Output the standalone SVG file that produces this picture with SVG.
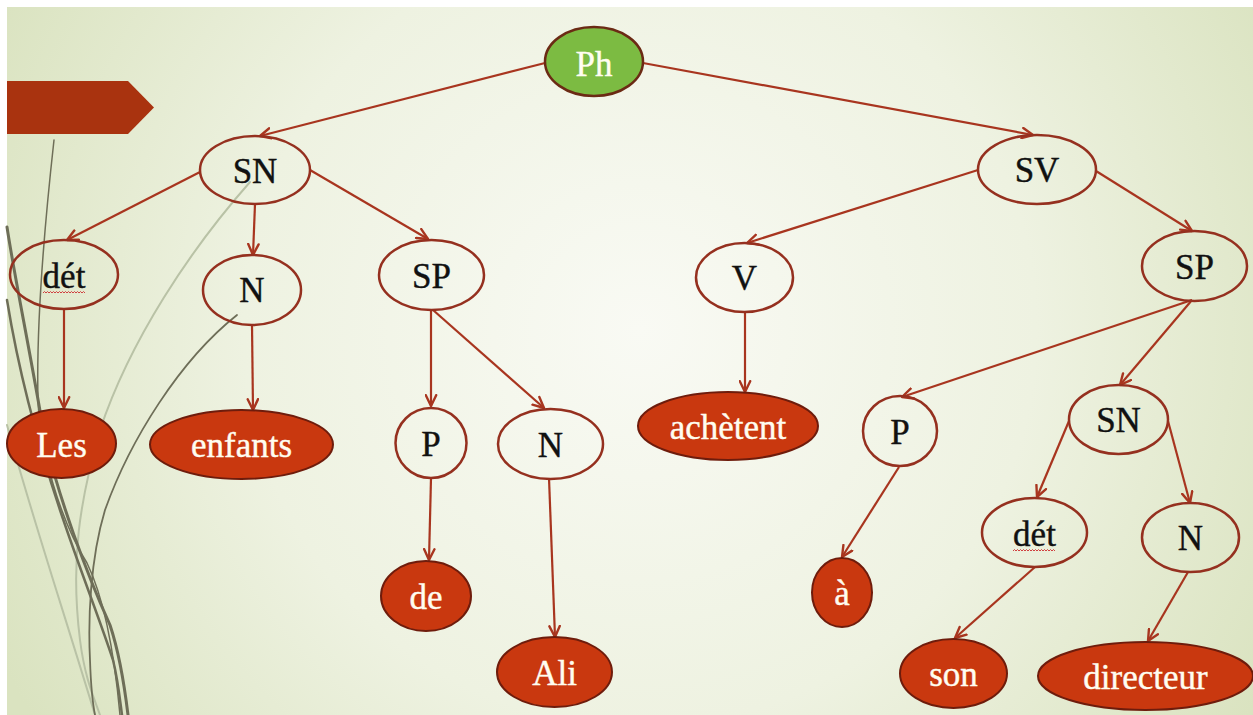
<svg xmlns="http://www.w3.org/2000/svg" width="1253" height="715" viewBox="0 0 1253 715">
<defs>
<radialGradient id="bg" cx="640" cy="330" r="720" gradientUnits="userSpaceOnUse">
<stop offset="0" stop-color="#F9FAF4"/>
<stop offset="0.55" stop-color="#EEF2E1"/>
<stop offset="1" stop-color="#DAE3C0"/>
</radialGradient>
<marker id="arr" viewBox="0 0 12 12" refX="11" refY="6" markerWidth="13" markerHeight="13" markerUnits="userSpaceOnUse" orient="auto">
<path d="M1,1.2 L11,6 L1,10.8" fill="none" stroke="#A8351F" stroke-width="2.2" stroke-linecap="round" stroke-linejoin="round"/>
</marker>
<style>
.edge{fill:none;stroke:#A8351F;stroke-width:2.2}
.inner{fill:none;stroke:#95301F;stroke-width:2.5}
.leaf{fill:#C9380F;stroke:#6E1C0C;stroke-width:2}
.root{fill:#7CBB42;stroke:#6B2A14;stroke-width:2.5}
.t{font-family:"Liberation Serif","Times New Roman",serif;font-size:35px;text-anchor:middle;stroke-width:0.4}
.tb{fill:#111111;stroke:#111111}
.tw{fill:#FFFDF0;stroke:#FFFDF0}
.dark{fill:none;stroke:#6E6E58;stroke-linecap:round}
.pale{fill:none;stroke:#B9C2A6;stroke-linecap:round}
.sq{fill:none;stroke:#D04040;stroke-width:1}
</style>
</defs>
<rect x="0" y="0" width="1253" height="715" fill="#FFFFFF"/>
<rect x="7" y="7" width="1246" height="708" fill="url(#bg)"/>
<g id="decor">
<path class="pale" stroke-width="2" d="M250,182 C190,250 130,340 100,430 C80,500 70,560 80,640 C85,680 95,700 100,715"/>
<path class="pale" stroke-width="2" d="M7,425 C30,510 60,600 95,715"/>
<path class="dark" stroke-width="1.5" d="M54,140 C44,230 36,320 38,400 C40,450 60,520 87,563 C105,600 115,660 120,715"/>
<path class="dark" stroke-width="3" d="M7,227 C15,280 30,350 45,440 C60,500 85,570 110,625 C120,655 125,690 128,715"/>
<path class="dark" stroke-width="2.5" d="M7,300 C20,380 40,450 60,510 C80,570 100,620 113,660 C118,680 120,700 122,715"/>
<path class="dark" stroke-width="1.8" d="M237,315 C180,360 130,440 105,510 C90,560 88,620 90,660 C91,690 93,705 95,715"/>
<polygon points="7,81 128,81 154,107.5 128,134 7,134" fill="#A9330F"/>
</g>
<g id="connectors">
<line class="edge" marker-end="url(#arr)" x1="545" y1="63" x2="260" y2="136"/>
<line class="edge" marker-end="url(#arr)" x1="643" y1="63" x2="1033" y2="135"/>
<line class="edge" marker-end="url(#arr)" x1="200" y1="172" x2="67" y2="240"/>
<line class="edge" marker-end="url(#arr)" x1="255" y1="204" x2="253" y2="255"/>
<line class="edge" marker-end="url(#arr)" x1="310" y1="170" x2="428" y2="239"/>
<line class="edge" marker-end="url(#arr)" x1="64" y1="309" x2="64" y2="408"/>
<line class="edge" marker-end="url(#arr)" x1="252" y1="325" x2="253" y2="410"/>
<line class="edge" marker-end="url(#arr)" x1="431" y1="310" x2="431" y2="406"/>
<line class="edge" marker-end="url(#arr)" x1="433" y1="310" x2="544" y2="408"/>
<line class="edge" marker-end="url(#arr)" x1="431" y1="478" x2="429" y2="560"/>
<line class="edge" marker-end="url(#arr)" x1="549" y1="478" x2="555" y2="637"/>
<line class="edge" marker-end="url(#arr)" x1="978" y1="170" x2="747" y2="243"/>
<line class="edge" marker-end="url(#arr)" x1="745" y1="312" x2="745" y2="392"/>
<line class="edge" marker-end="url(#arr)" x1="1096" y1="171" x2="1192" y2="231"/>
<line class="edge" marker-end="url(#arr)" x1="1192" y1="300" x2="902" y2="397"/>
<line class="edge" marker-end="url(#arr)" x1="1192" y1="300" x2="1120" y2="385"/>
<line class="edge" marker-end="url(#arr)" x1="1069" y1="421" x2="1037" y2="497"/>
<line class="edge" marker-end="url(#arr)" x1="1168" y1="421" x2="1190" y2="503"/>
<line class="edge" marker-end="url(#arr)" x1="899" y1="467" x2="842" y2="557"/>
<line class="edge" marker-end="url(#arr)" x1="1035" y1="567" x2="955" y2="638"/>
<line class="edge" marker-end="url(#arr)" x1="1188" y1="572" x2="1148" y2="641"/>
</g>
<g id="node-ph"><ellipse class="root" cx="594" cy="61.5" rx="49" ry="34.5"/><text class="t tw" x="594" y="76">Ph</text></g>
<g id="node-sn"><ellipse class="inner" cx="255" cy="170" rx="55" ry="34"/><text class="t tb" x="255" y="183">SN</text></g>
<g id="node-sv"><ellipse class="inner" cx="1037" cy="169.5" rx="59" ry="34.5"/><text class="t tb" x="1037" y="182">SV</text></g>
<g id="node-det1"><ellipse class="inner" cx="64" cy="274.5" rx="54" ry="34.5"/><text class="t tb" x="64" y="288">dét</text><path class="sq" d="M43,293 l1.5,-1.5 l1.5,1.5 l1.5,-1.5 l1.5,1.5 l1.5,-1.5 l1.5,1.5 l1.5,-1.5 l1.5,1.5 l1.5,-1.5 l1.5,1.5 l1.5,-1.5 l1.5,1.5 l1.5,-1.5 l1.5,1.5 l1.5,-1.5 l1.5,1.5 l1.5,-1.5 l1.5,1.5 l1.5,-1.5 l1.5,1.5 l1.5,-1.5 l1.5,1.5 l1.5,-1.5 l1.5,1.5 l1.5,-1.5 l1.5,1.5 l1.5,-1.5 l1.5,1.5"/></g>
<g id="node-n1"><ellipse class="inner" cx="252" cy="290" rx="49" ry="35"/><text class="t tb" x="252" y="302">N</text></g>
<g id="node-sp1"><ellipse class="inner" cx="431.5" cy="275" rx="52.5" ry="35"/><text class="t tb" x="431.5" y="288">SP</text></g>
<g id="node-v"><ellipse class="inner" cx="744.5" cy="277.5" rx="48.5" ry="34.5"/><text class="t tb" x="744.5" y="290">V</text></g>
<g id="node-sp2"><ellipse class="inner" cx="1194.5" cy="266" rx="52.5" ry="35"/><text class="t tb" x="1194.5" y="279">SP</text></g>
<g id="node-les"><ellipse class="leaf" cx="61.5" cy="443.5" rx="54.5" ry="34.5"/><text class="t tw" x="61.5" y="457">Les</text></g>
<g id="node-enfants"><ellipse class="leaf" cx="241.5" cy="444.5" rx="91.5" ry="34.5"/><text class="t tw" x="241.5" y="457">enfants</text></g>
<g id="node-p1"><ellipse class="inner" cx="431" cy="443" rx="35.5" ry="35"/><text class="t tb" x="431" y="456">P</text></g>
<g id="node-n2"><ellipse class="inner" cx="550.5" cy="444" rx="52.5" ry="35"/><text class="t tb" x="550.5" y="457">N</text></g>
<g id="node-achetent"><ellipse class="leaf" cx="728" cy="426" rx="90" ry="34"/><text class="t tw" x="728" y="439">achètent</text></g>
<g id="node-p2"><ellipse class="inner" cx="900" cy="431" rx="37" ry="35"/><text class="t tb" x="900" y="444">P</text></g>
<g id="node-sn2"><ellipse class="inner" cx="1118.5" cy="419.5" rx="49.5" ry="34.5"/><text class="t tb" x="1118.5" y="432">SN</text></g>
<g id="node-de"><ellipse class="leaf" cx="426" cy="596" rx="45" ry="35"/><text class="t tw" x="426" y="609">de</text></g>
<g id="node-ali"><ellipse class="leaf" cx="554.5" cy="672" rx="57.5" ry="35"/><text class="t tw" x="554.5" y="685">Ali</text></g>
<g id="node-a"><ellipse class="leaf" cx="842" cy="592.5" rx="30" ry="34.5"/><text class="t tw" x="842" y="605">à</text></g>
<g id="node-det2"><ellipse class="inner" cx="1034.5" cy="532.5" rx="52.5" ry="34.5"/><text class="t tb" x="1034.5" y="546">dét</text><path class="sq" d="M1013,551 l1.5,-1.5 l1.5,1.5 l1.5,-1.5 l1.5,1.5 l1.5,-1.5 l1.5,1.5 l1.5,-1.5 l1.5,1.5 l1.5,-1.5 l1.5,1.5 l1.5,-1.5 l1.5,1.5 l1.5,-1.5 l1.5,1.5 l1.5,-1.5 l1.5,1.5 l1.5,-1.5 l1.5,1.5 l1.5,-1.5 l1.5,1.5 l1.5,-1.5 l1.5,1.5 l1.5,-1.5 l1.5,1.5 l1.5,-1.5 l1.5,1.5 l1.5,-1.5 l1.5,1.5"/></g>
<g id="node-n3"><ellipse class="inner" cx="1190.5" cy="537.5" rx="48.5" ry="34.5"/><text class="t tb" x="1190.5" y="550">N</text></g>
<g id="node-son"><ellipse class="leaf" cx="953.5" cy="673.5" rx="53.5" ry="34.5"/><text class="t tw" x="953.5" y="686">son</text></g>
<g id="node-directeur"><ellipse class="leaf" cx="1145.5" cy="676" rx="107.5" ry="34"/><text class="t tw" x="1145.5" y="689">directeur</text></g>
</svg>
